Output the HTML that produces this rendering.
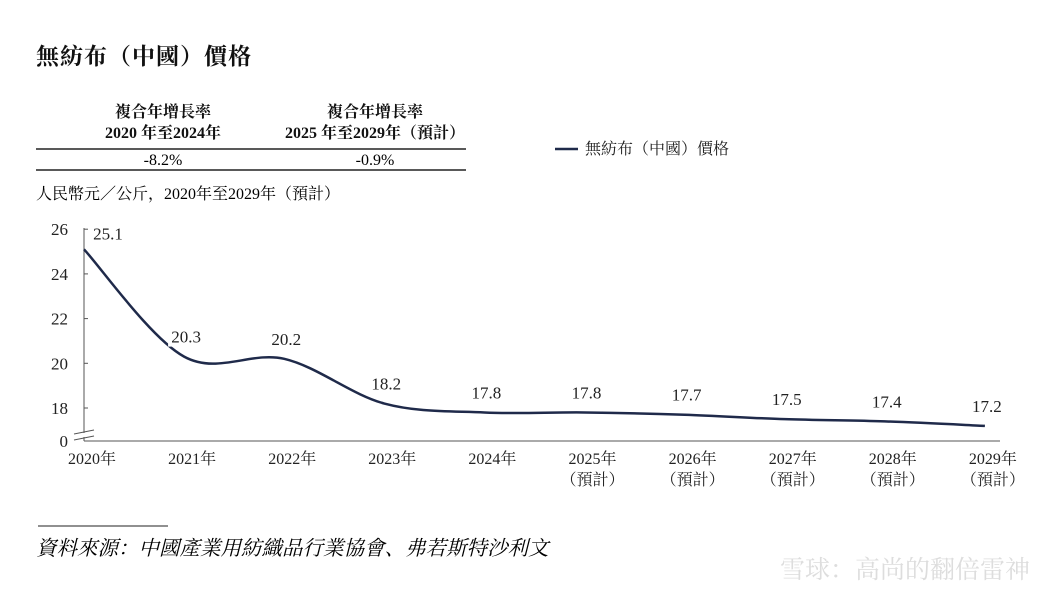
<!DOCTYPE html>
<html><head><meta charset="utf-8"><style>
body{margin:0;background:#fff;width:1062px;height:600px;overflow:hidden;font-family:"Liberation Serif","Noto Serif CJK SC","Noto Sans CJK TC",serif;color:#222;}
svg text{font-family:"Liberation Serif","Noto Serif CJK SC","Noto Sans CJK TC",serif;}
</style></head><body>
<svg width="1062" height="600">
<text x="36" y="64" font-size="23" font-weight="bold" fill="#111" letter-spacing="1" font-family="'Noto Sans CJK TC',sans-serif">無紡布（中國）價格</text>
<g font-size="16" font-weight="bold" fill="#111" text-anchor="middle">
<text x="163" y="117">複合年增長率</text><text x="163" y="138">2020 年至2024年</text>
<text x="375" y="117">複合年增長率</text><text x="375" y="138">2025 年至2029年（預計）</text>
</g>
<line x1="36" y1="149" x2="466" y2="149" stroke="#222" stroke-width="1.5"/>
<line x1="36" y1="170" x2="466" y2="170" stroke="#222" stroke-width="1.5"/>
<text x="163" y="165" font-size="16" text-anchor="middle">-8.2%</text>
<text x="375" y="165" font-size="16" text-anchor="middle">-0.9%</text>
<line x1="555" y1="149" x2="578" y2="149" stroke="#1f2a4a" stroke-width="2.5"/>
<text x="585" y="154" font-size="16" fill="#222">無紡布（中國）價格</text>
<text x="36" y="199" font-size="16">人民幣元／公斤，2020年至2029年（預計）</text>
<g id="plot"></g>
<line x1="38" y1="526" x2="168" y2="526" stroke="#222" stroke-width="1"/>
<text x="36" y="555" font-size="20.5" font-style="italic">資料來源：中國產業用紡織品行業協會、弗若斯特沙利文</text>
<text x="1030" y="578" font-size="25" fill="#ddd" text-anchor="end" font-family="'Noto Sans CJK SC',sans-serif">雪球：高尚的翻倍雷神</text>
</svg>
<script>
const categories=["2020年","2021年","2022年","2023年","2024年","2025年","2026年","2027年","2028年","2029年"];
const forecast=[false,false,false,false,false,true,true,true,true,true];
const values=[25.1,20.3,20.2,18.2,17.8,17.8,17.7,17.5,17.4,17.2];
const yTicks=[18,20,22,24,26];
const NS="http://www.w3.org/2000/svg";
const g=document.getElementById('plot');
const x=i=>84+i*100.1;
const y=v=>408-(v-18)*22.35;
function mk(t,a,p){const e=document.createElementNS(NS,t);for(const k in a)e.setAttribute(k,a[k]);(p||g).appendChild(e);return e;}
const ax=mk('line',{x1:84,y1:228,x2:84,y2:441,stroke:'#555','stroke-width':1});


const xa=mk('line',{x1:84,y1:441,x2:1000,y2:441,stroke:'#555','stroke-width':1});


mk('line',{x1:74,y1:434,x2:94,y2:430,stroke:'#555'});
mk('line',{x1:74,y1:440,x2:94,y2:436,stroke:'#555'});
mk('rect',{x:83,y:433,width:3,height:4,fill:'#fff'});
yTicks.forEach(v=>{
 mk('line',{x1:84,y1:y(v),x2:88,y2:y(v),stroke:'#555'});
 const t=mk('text',{x:68,y:y(v)+6,'font-size':17,'text-anchor':'end',fill:'#222'});t.textContent=v;
 
 
});
const t0=mk('text',{x:68,y:447,'font-size':17,'text-anchor':'end',fill:'#222'});t0.textContent='0';
categories.forEach((c,i)=>{
 const t=mk('text',{x:x(i)+8,y:464,'font-size':16,'text-anchor':'middle',fill:'#222'});t.textContent=c;
 
 
 if(forecast[i]){const f=mk('text',{x:x(i)+8,y:485,'font-size':16,'text-anchor':'middle',fill:'#222'});f.textContent='（預計）';}
});
const P=values.map((v,i)=>[x(i),y(v)]);
let d='M'+P[0][0]+','+P[0][1];
for(let i=0;i<P.length-1;i++){
 const p0=P[Math.max(0,i-1)],p1=P[i],p2=P[i+1],p3=P[Math.min(P.length-1,i+2)];
 const k=1/3;
 const c1=[p1[0]+(p2[0]-p0[0])*k/2,p1[1]+(p2[1]-p0[1])*k/2];
 const c2=[p2[0]-(p3[0]-p1[0])*k/2,p2[1]-(p3[1]-p1[1])*k/2];
 d+=` C${c1[0]},${c1[1]} ${c2[0]},${c2[1]} ${p2[0]},${p2[1]}`;
}
const line=mk('path',{d:d,fill:'none',stroke:'#1f2a4a','stroke-width':2.5});


values.forEach((v,i)=>{
 const lx=i===0?x(i)+24:x(i)+2, ly=i===0?y(v)-10:y(v)-14;
 mk('rect',{x:lx-18,y:ly-15,width:36,height:19,fill:'#fff'});
 const t=mk('text',{x:lx,y:ly,'font-size':17,'text-anchor':'middle',fill:'#222'});t.textContent=v.toFixed(1);
 
 
});
</script>
</body></html>
